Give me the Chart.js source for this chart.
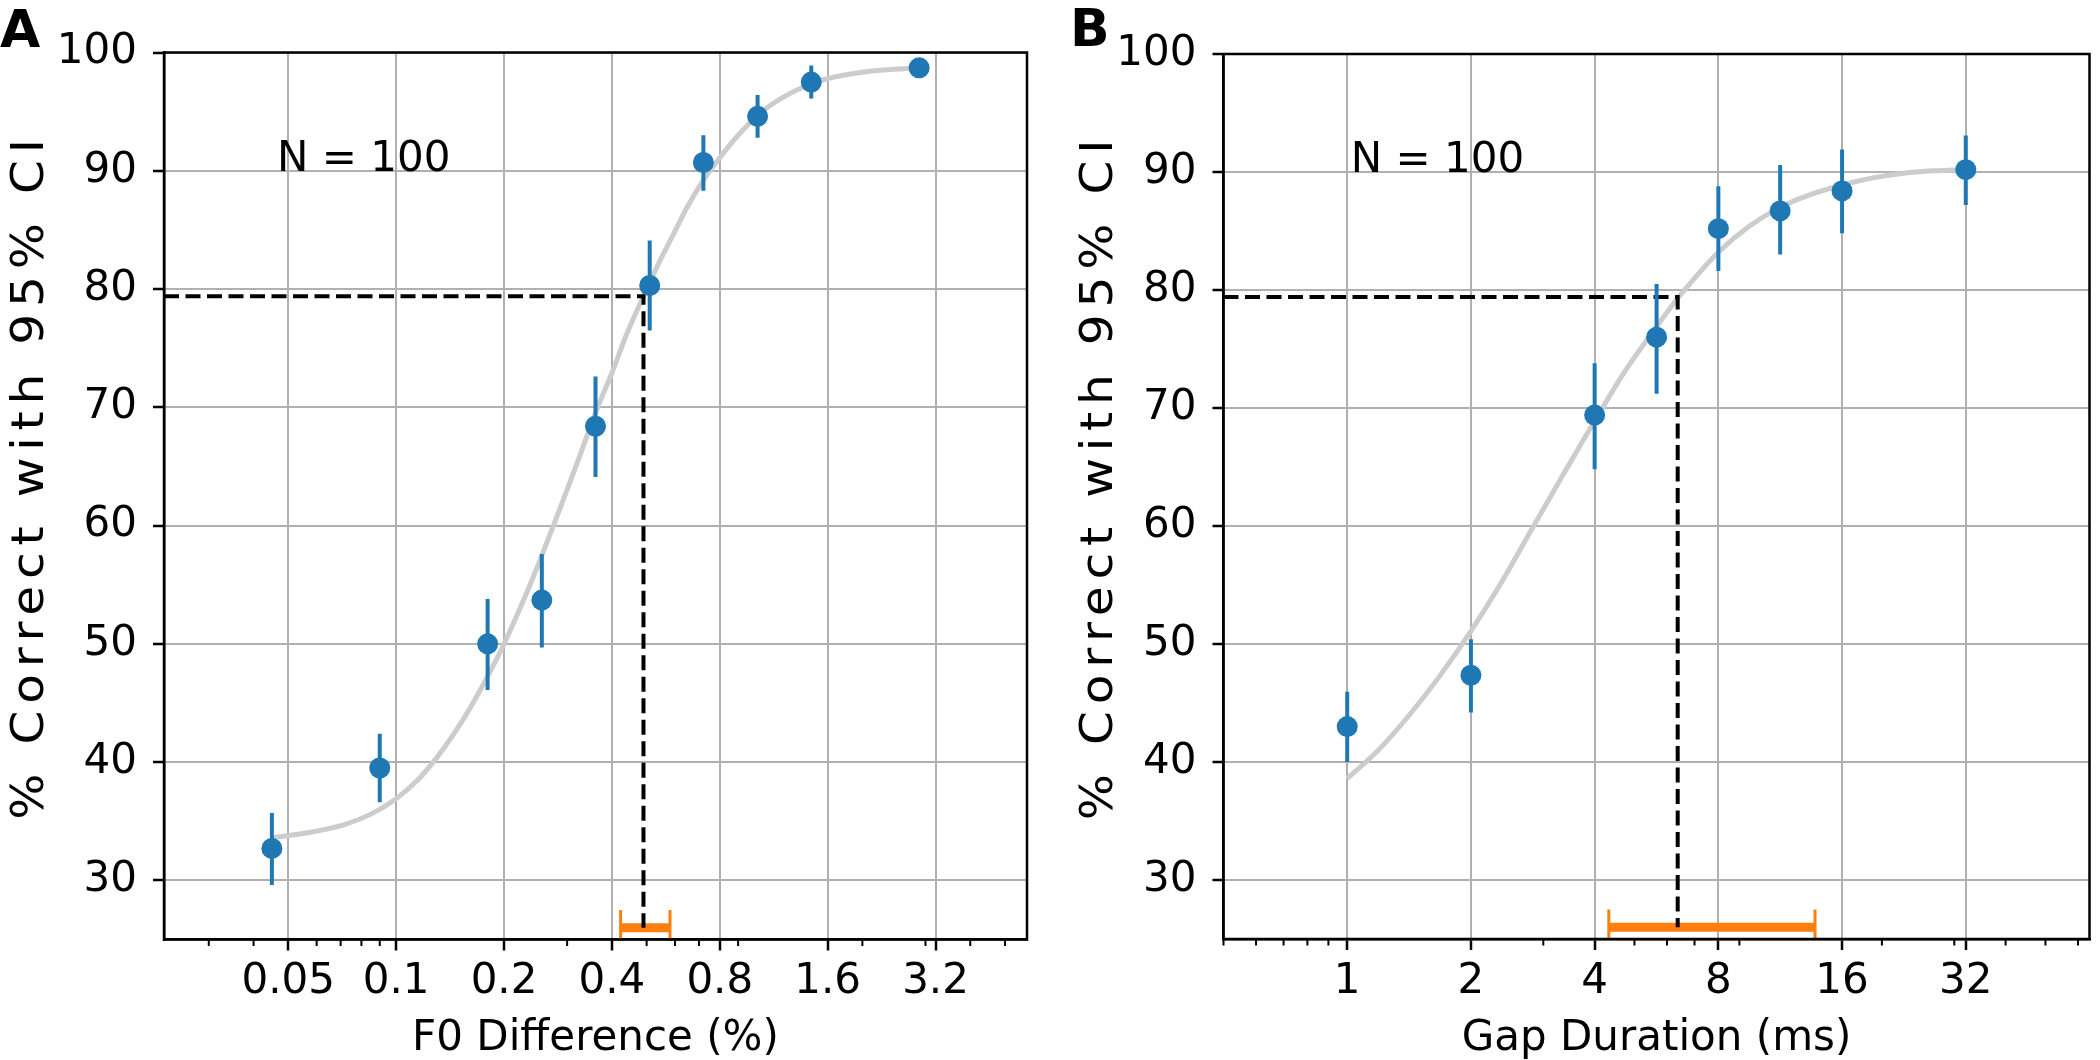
<!DOCTYPE html>
<html><head><meta charset="utf-8">
<script src="https://cdn.jsdelivr.net/npm/chart.js@4.4.1/dist/chart.umd.min.js"></script>
<style>
html,body{margin:0;padding:0;background:#fff;}
body{width:2100px;height:1060px;position:relative;overflow:hidden;}
canvas{position:absolute;top:0;}
#cA{left:0;} #cB{left:1050px;}
</style></head><body>
<canvas id="cA" width="1050" height="1060"></canvas>
<canvas id="cB" width="1050" height="1060"></canvas>
<script>
// ---------- Panel A : F0 difference ----------
const xA   = [0.045, 0.09, 0.18, 0.255, 0.36, 0.51, 0.72, 1.02, 1.44, 2.88];
const yA   = [32.7, 39.5, 50.0, 53.7, 68.4, 80.3, 90.7, 94.6, 97.5, 98.7];
const loA  = [29.6, 36.6, 46.1, 49.7, 64.1, 76.5, 88.3, 92.8, 96.1, 98.2];
const hiA  = [35.7, 42.4, 53.8, 57.6, 72.6, 84.1, 93.0, 96.4, 98.9, 99.2];
const fitXA = [0.045, 0.056, 0.0714, 0.085, 0.1, 0.115, 0.13, 0.145, 0.161, 0.181, 0.2, 0.232, 0.256, 0.287, 0.32, 0.365, 0.4, 0.44, 0.49, 0.537, 0.6, 0.651, 0.72, 0.8, 0.9, 1.04, 1.2, 1.35, 1.6, 2.07, 2.5, 2.88];
const fitYA = [33.6, 34.0, 34.7, 35.6, 36.9, 38.5, 40.4, 42.4, 44.6, 47.4, 50.0, 54.4, 57.6, 61.5, 65.3, 70.0, 72.9, 76.2, 79.4, 82.0, 84.9, 87.0, 89.2, 91.1, 93.0, 94.9, 96.2, 97.0, 97.8, 98.4, 98.6, 98.7];
const thrA = {x: 0.49, y: 79.4};
const rangeA = [0.423, 0.581];
const xTicksA = [0.05, 0.1, 0.2, 0.4, 0.8, 1.6, 3.2];
const xTickLabelsA = ['0.05', '0.1', '0.2', '0.4', '0.8', '1.6', '3.2'];
const xMinorA = [0.03, 0.04, 0.06, 0.07, 0.08, 0.09, 0.3, 0.5, 0.6, 0.7, 0.9, 2, 3, 4, 5];
const xLimA = [0.0225, 5.76];

// ---------- Panel B : gap duration ----------
const xB   = [1, 2, 4, 5.66, 8, 11.31, 16, 32];
const yB   = [43.0, 47.35, 69.4, 76.0, 85.2, 86.7, 88.4, 90.2];
const loB  = [40.0, 44.2, 64.8, 71.2, 81.6, 83.0, 84.8, 87.2];
const hiB  = [45.95, 50.4, 73.8, 80.5, 88.8, 90.6, 91.9, 93.1];
const fitXB = [1, 1.19, 1.41, 1.68, 2.0, 2.38, 2.83, 3.36, 4.0, 4.76, 5.66, 6.37, 6.73, 8.0, 9.51, 11.3, 13.45, 16, 19, 22.6, 26.9, 32];
const fitYB = [38.6, 41.0, 43.9, 47.3, 51.1, 55.3, 59.9, 64.4, 68.9, 73.2, 76.9, 79.3, 80.3, 83.2, 85.4, 87.0, 88.1, 88.9, 89.5, 89.9, 90.1, 90.2];
const thrB = {x: 6.37, y: 79.4};
const rangeB = [4.33, 13.75];
const xTicksB = [1, 2, 4, 8, 16, 32];
const xTickLabelsB = ['1', '2', '4', '8', '16', '32'];
const xMinorB = [0.5, 0.6, 0.7, 0.8, 0.9, 3, 5, 6, 7, 9, 20, 30, 40, 50, 60];
const xLimB = [0.5, 64];

// ---------- shared ----------
const yTicks = [30, 40, 50, 60, 70, 80, 90, 100];
const yTickLabels = ['30', '40', '50', '60', '70', '80', '90', '100'];
const yLim = [25, 100];
const rangeY = 26;
const capY = [25, 27.5];
const noteText = 'N = 100';
const noteY = 90;
const yTitle = '% Correct with 95% CI';

const BLUE = '#1f77b4', ORANGE = '#ff7f0e', FIT = '#cccccc', GRID = '#b0b0b0';
const FONT = '"DejaVu Sans", sans-serif';

const decor = {
  id: 'decor',
  afterDraw(chart, args, o) {
    const {ctx, chartArea: a, scales: {x, y}} = chart;
    ctx.save();
    // minor ticks
    ctx.strokeStyle = '#000'; ctx.lineWidth = 2;
    o.minor.forEach(v => {
      const px = x.getPixelForValue(v);
      ctx.beginPath(); ctx.moveTo(px, a.bottom); ctx.lineTo(px, a.bottom + 6.5); ctx.stroke();
    });
    // frame
    ctx.lineWidth = 2.5;
    ctx.strokeRect(a.left, a.top, a.right - a.left, a.bottom - a.top);
    // annotation
    ctx.fillStyle = '#000';
    ctx.font = '42px ' + FONT; ctx.textAlign = 'left'; ctx.textBaseline = 'alphabetic';
    ctx.fillText(noteText, x.getPixelForValue(o.noteX), y.getPixelForValue(noteY));
    // panel letter
    ctx.font = 'bold 52px ' + FONT;
    ctx.fillText(o.letter, o.letterX, o.letterY);
    // y title
    ctx.translate(o.ylabX, (a.top + a.bottom) / 2 + o.ylabDy);
    ctx.rotate(-Math.PI / 2);
    ctx.scale(1.08, 1);
    ctx.font = '45px ' + FONT;
    ctx.letterSpacing = '6.3px';
    ctx.textAlign = 'center';
    ctx.fillText(yTitle, 0, 0);
    ctx.restore();
  }
};

function makeChart(id, P) {
  const pts = (xs, ys) => xs.map((v, i) => ({x: v, y: ys[i]}));
  return new Chart(document.getElementById(id), {
    type: 'scatter',
    data: {datasets: [
      {data: pts(P.x, P.y), backgroundColor: BLUE, borderWidth: 0, pointRadius: 10.5, pointHoverRadius: 10.5, order: 0},
      {data: P.x.flatMap((v, i) => [{x: v, y: P.lo[i]}, {x: v, y: P.hi[i]}, {x: v, y: null}]),
       showLine: true, spanGaps: false, borderColor: BLUE, borderWidth: 4, pointRadius: 0, borderCapStyle: 'butt', order: 1},
      {data: [{x: P.xlim[0], y: P.thr.y}, {x: P.thr.x, y: P.thr.y}, {x: P.thr.x, y: rangeY}],
       showLine: true, borderColor: '#000', borderWidth: 4, borderDash: [15, 6.5], pointRadius: 0, order: 2},
      {data: [{x: P.range[0], y: rangeY}, {x: P.range[1], y: rangeY}],
       showLine: true, borderColor: ORANGE, borderWidth: 9, pointRadius: 0, borderCapStyle: 'butt', order: 3},
      {data: [{x: P.range[0], y: capY[0]}, {x: P.range[0], y: capY[1]}, {x: P.range[0], y: null},
              {x: P.range[1], y: capY[0]}, {x: P.range[1], y: capY[1]}],
       showLine: true, spanGaps: false, borderColor: ORANGE, borderWidth: 3, pointRadius: 0, borderCapStyle: 'butt', order: 3},
      {data: pts(P.fx, P.fy), showLine: true, borderColor: FIT, borderWidth: 5, pointRadius: 0,
       cubicInterpolationMode: 'monotone', order: 4}
    ]},
    options: {
      responsive: false, animation: false, devicePixelRatio: 1, events: [],
      layout: {padding: {top: P.padTop, right: P.padRight, left: 0, bottom: 0}},
      plugins: {legend: {display: false}, tooltip: {enabled: false},
        decor: {minor: P.minor, noteX: P.noteX, letter: P.letter, letterX: P.letterX, letterY: P.letterY, ylabX: P.ylabX, ylabDy: P.ylabDy}},
      scales: {
        x: {type: 'logarithmic', min: P.xlim[0], max: P.xlim[1],
          afterBuildTicks: s => { s.ticks = P.ticks.map(v => ({value: v})); },
          afterFit: s => { s.height = P.xAxisH; },
          ticks: {callback: (v, i) => P.tickLabels[i], font: {family: FONT, size: 42}, color: '#000', padding: 6.5, maxRotation: 0, autoSkip: false},
          grid: {color: GRID, lineWidth: 2, tickColor: '#000', tickWidth: 2.5, tickLength: 11},
          border: {color: '#000', width: 2.5},
          title: {display: true, text: P.xTitle, font: {family: FONT, size: 42, lineHeight: 1}, color: '#000', padding: 0}
        },
        y: {type: 'linear', min: yLim[0], max: yLim[1],
          afterBuildTicks: s => { s.ticks = yTicks.map(v => ({value: v})); },
          afterFit: s => { s.width = P.yAxisW; },
          ticks: {callback: (v, i) => yTickLabels[i], font: {family: FONT, size: 42}, color: '#000', padding: 16, autoSkip: false},
          grid: {color: GRID, lineWidth: 2, tickColor: '#000', tickWidth: 2.5, tickLength: 11},
          border: {color: '#000', width: 2.5}
        }
      }
    },
    plugins: [decor]
  });
}

makeChart('cA', {x: xA, y: yA, lo: loA, hi: hiA, fx: fitXA, fy: fitYA, thr: thrA, range: rangeA,
  ticks: xTicksA, tickLabels: xTickLabelsA, minor: xMinorA, xlim: xLimA, xTitle: 'F0 Difference (%)',
  padTop: 52.5, padRight: 23, xAxisH: 120.5, yAxisW: 164, noteX: 0.0465,
  letter: 'A', letterX: 0, letterY: 47, ylabX: 43, ylabDy: -20});
makeChart('cB', {x: xB, y: yB, lo: loB, hi: hiB, fx: fitXB, fy: fitYB, thr: thrB, range: rangeB,
  ticks: xTicksB, tickLabels: xTickLabelsB, minor: xMinorB, xlim: xLimB, xTitle: 'Gap Duration (ms)',
  padTop: 54, padRight: 1.5, xAxisH: 121, yAxisW: 173.5, noteX: 1.02,
  letter: 'B', letterX: 20, letterY: 46, ylabX: 61.7, ylabDy: -20});
</script>
</body></html>
